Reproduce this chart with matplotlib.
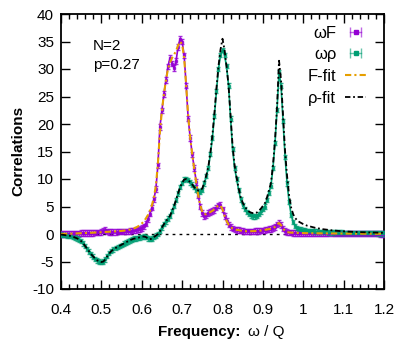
import numpy as np
import matplotlib
matplotlib.use("Agg")
import matplotlib.pyplot as plt
from matplotlib.lines import Line2D
from matplotlib.legend_handler import HandlerTuple, HandlerLine2D
from matplotlib.ticker import MultipleLocator

plt.rcParams['font.family'] = ['Liberation Sans', 'DejaVu Sans']
plt.rcParams['axes.unicode_minus'] = False

# frequency grid (omega / Q)
freq = np.round(np.arange(0.400, 1.2001, 0.005), 3)

# omega F data
wF = [0.00, 0.00, 0.02, 0.03, 0.05, 0.05, 0.08, 0.10, 0.10, 0.12,
      0.15, 0.15, 0.15, 0.18, 0.20, 0.20, 0.22, 0.25, 0.28, 0.30,
      0.40, 0.60, 0.70, 0.50, 0.40, 0.38, 0.35, 0.40, 0.42, 0.45,
      0.45, 0.48, 0.50, 0.50, 0.55, 0.60, 0.65, 0.75, 0.85, 0.95,
      1.10, 1.40, 1.90, 2.70, 3.70, 4.80, 6.30, 8.20, 12.5, 19.5,
      22.5, 25.5, 28.0, 30.5, 32.0, 31.0, 30.2, 31.5, 34.0, 35.5,
      35.0, 32.5, 27.0, 21.0, 17.5, 14.5, 12.0, 9.50, 7.00, 5.00,
      3.80, 3.30, 3.40, 3.80, 4.00, 4.20, 4.40, 4.80, 5.20, 5.30,
      4.50, 3.30, 2.40, 1.70, 1.30, 1.00, 0.85, 0.75, 0.70, 0.62,
      0.55, 0.50, 0.50, 0.48, 0.50, 0.50, 0.52, 0.55, 0.58, 0.62,
      0.68, 0.72, 0.80, 0.88, 0.95, 1.05, 1.30, 1.75, 2.00, 1.60,
      1.00, 0.55, 0.35, 0.28, 0.25, 0.22, 0.20, 0.20, 0.18, 0.18,
      0.16, 0.15, 0.15, 0.14, 0.14, 0.13, 0.13, 0.12, 0.12, 0.12,
      0.11, 0.11, 0.10, 0.10, 0.10, 0.10, 0.09, 0.09, 0.09, 0.08,
      0.08, 0.08, 0.08, 0.07, 0.07, 0.07, 0.07, 0.06, 0.06, 0.06,
      0.06, 0.06, 0.05, 0.05, 0.05, 0.05, 0.05, 0.05, 0.04, 0.04,
      0.04]

# omega rho data
wrho = [-0.10, -0.15, -0.20, -0.25, -0.30, -0.40, -0.50, -0.65, -0.80, -1.00,
        -1.30, -1.70, -2.20, -2.70, -3.20, -3.70, -4.10, -4.50, -4.80, -5.00,
        -5.10, -5.00, -4.60, -4.00, -3.50, -3.10, -2.80, -2.55, -2.35, -2.15,
        -1.95, -1.75, -1.55, -1.35, -1.15, -1.00, -0.85, -0.80, -0.70, -0.60,
        -0.50, -0.45, -0.55, -0.80, -0.95, -0.85, -0.55, -0.30, 0.00, 0.50,
        1.20, 1.80, 2.30, 2.80, 3.30, 4.20, 5.10, 6.20, 7.40, 8.50,
        9.30, 9.90, 10.0, 9.80, 9.40, 9.00, 8.50, 8.00, 7.80, 7.70,
        8.00, 9.20, 10.5, 12.0, 14.5, 17.5, 21.5, 26.0, 30.0, 32.5,
        33.5, 32.5, 30.5, 27.0, 21.0, 15.5, 12.0, 10.0, 8.00, 6.30,
        5.20, 4.50, 4.00, 3.60, 3.40, 3.20, 3.20, 3.30, 3.60, 4.10,
        4.60, 5.00, 6.20, 7.50, 8.80, 12.0, 16.5, 22.5, 29.5, 27.0,
        20.5, 14.0, 9.20, 5.80, 3.50, 2.20, 1.50, 1.10, 0.90, 0.80,
        0.70, 0.65, 0.60, 0.55, 0.50, 0.48, 0.45, 0.42, 0.40, 0.38,
        0.36, 0.34, 0.32, 0.30, 0.29, 0.28, 0.27, 0.26, 0.25, 0.24,
        0.23, 0.22, 0.21, 0.20, 0.20, 0.19, 0.18, 0.18, 0.17, 0.16,
        0.16, 0.15, 0.15, 0.14, 0.14, 0.13, 0.13, 0.12, 0.12, 0.12,
        0.11]

# F fit
Ffit = [0.00, 0.00, 0.02, 0.03, 0.05, 0.06, 0.08, 0.10, 0.11, 0.13,
        0.15, 0.16, 0.17, 0.19, 0.21, 0.22, 0.24, 0.26, 0.29, 0.32,
        0.34, 0.36, 0.38, 0.40, 0.42, 0.44, 0.46, 0.48, 0.50, 0.53,
        0.56, 0.60, 0.65, 0.70, 0.78, 0.88, 1.00, 1.15, 1.35, 1.60,
        1.90, 2.30, 2.80, 3.40, 4.20, 5.20, 6.60, 8.80, 12.8, 18.5,
        22.5, 25.5, 28.0, 30.0, 31.2, 32.0, 32.6, 33.3, 34.3, 35.0,
        34.5, 32.0, 27.0, 21.5, 17.5, 14.5, 11.8, 9.30, 7.00, 5.20,
        4.00, 3.60, 3.60, 3.80, 4.00, 4.20, 4.50, 4.90, 5.20, 5.20,
        4.50, 3.30, 2.40, 1.70, 1.30, 1.00, 0.85, 0.75, 0.70, 0.62,
        0.55, 0.50, 0.50, 0.48, 0.50, 0.50, 0.52, 0.55, 0.58, 0.62,
        0.68, 0.72, 0.80, 0.88, 0.95, 1.05, 1.30, 1.75, 2.00, 1.60,
        1.00, 0.55, 0.35, 0.28, 0.25, 0.22, 0.20, 0.20, 0.18, 0.18,
        0.16, 0.15, 0.15, 0.14, 0.14, 0.13, 0.13, 0.12, 0.12, 0.12,
        0.11, 0.11, 0.10, 0.10, 0.10, 0.10, 0.09, 0.09, 0.09, 0.08,
        0.08, 0.08, 0.08, 0.07, 0.07, 0.07, 0.07, 0.06, 0.06, 0.06,
        0.06, 0.06, 0.05, 0.05, 0.05, 0.05, 0.05, 0.05, 0.04, 0.04,
        0.04]

# rho fit
rhofit = [-0.10, -0.15, -0.20, -0.25, -0.30, -0.40, -0.50, -0.65, -0.80, -1.00,
          -1.30, -1.70, -2.20, -2.70, -3.20, -3.70, -4.10, -4.50, -4.80, -5.00,
          -5.10, -5.00, -4.60, -4.00, -3.50, -3.10, -2.80, -2.55, -2.35, -2.15,
          -1.95, -1.75, -1.55, -1.35, -1.15, -1.00, -0.85, -0.80, -0.70, -0.60,
          -0.50, -0.45, -0.55, -0.80, -0.95, -0.85, -0.55, -0.30, 0.00, 0.50,
          1.20, 1.80, 2.30, 2.80, 3.30, 4.20, 5.10, 6.20, 7.40, 8.50,
          9.30, 9.90, 10.0, 9.80, 9.40, 9.00, 8.50, 8.10, 7.90, 7.90,
          8.30, 9.40, 10.7, 12.3, 14.8, 18.0, 22.0, 26.5, 30.5, 33.5,
          35.5, 33.5, 30.5, 27.0, 21.5, 16.0, 12.5, 10.3, 8.30, 6.70,
          5.70, 5.00, 4.50, 4.10, 3.90, 3.80, 3.80, 3.90, 4.20, 4.60,
          5.10, 5.60, 6.60, 7.90, 9.30, 12.5, 17.0, 23.0, 31.5, 28.0,
          21.5, 15.0, 10.5, 7.00, 4.80, 3.60, 2.90, 2.50, 2.20, 2.00,
          1.80, 1.65, 1.50, 1.40, 1.30, 1.20, 1.12, 1.05, 0.98, 0.92,
          0.86, 0.81, 0.76, 0.72, 0.68, 0.64, 0.60, 0.57, 0.54, 0.51,
          0.48, 0.46, 0.44, 0.42, 0.40, 0.38, 0.36, 0.35, 0.33, 0.32,
          0.31, 0.30, 0.29, 0.28, 0.27, 0.26, 0.25, 0.24, 0.23, 0.22,
          0.21]

err_F = 0.5
err_rho = 0.4

labels = ['ωF', 'ωρ', 'F-fit', 'ρ-fit']
c_F, c_rho, c_Ffit, c_rhofit = '#9400D3', '#009E73', '#E69F00', '#000000'

FS = 11

fig = plt.figure(figsize=(3.96, 3.40), dpi=100)
ax = fig.add_axes([61/396, 1-289/340, (384-61)/396, (289-14)/340])

ax.axhline(0, color='black', lw=1.0, ls=(0, (2, 3)), zorder=1)

ax.errorbar(freq, wF, yerr=err_F, fmt='s', ms=2.0, color=c_F, ecolor=c_F,
            elinewidth=1.0, capsize=1.5, capthick=1.0, alpha=0.8, zorder=3)
ax.errorbar(freq, wrho, yerr=err_rho, fmt='s', ms=2.0, color=c_rho, ecolor=c_rho,
            elinewidth=1.0, capsize=1.5, capthick=1.0, alpha=0.8, zorder=3)
ax.plot(freq, wF, color=c_F, lw=1.2, zorder=3)
ax.plot(freq, wrho, color=c_rho, lw=1.2, zorder=3)
ax.plot(freq, Ffit, color=c_Ffit, lw=1.5, ls=(0, (3, 1.5, 1, 1.5)), zorder=4)
ax.plot(freq, rhofit, color=c_rhofit, lw=1.3, ls=(0, (3, 1.5, 1, 1.5)), zorder=4)

ax.set_xlim(0.4, 1.2)
ax.set_ylim(-10, 40)
ax.xaxis.set_minor_locator(MultipleLocator(0.02))
ax.yaxis.set_major_locator(MultipleLocator(5))
ax.set_xticks([0.4, 0.5, 0.6, 0.7, 0.8, 0.9, 1.0, 1.1, 1.2])
ax.set_xticklabels(['0.4', '0.5', '0.6', '0.7', '0.8', '0.9', '1', '1.1', '1.2'])
ax.tick_params(axis='both', which='major', direction='in', length=6.5, width=1.0,
               top=True, right=True, labelsize=FS, colors='black')
ax.tick_params(axis='x', which='minor', direction='in', length=3.5, width=1.0,
               top=True, bottom=True)
ax.tick_params(axis='x', which='major', pad=10)
ax.tick_params(axis='y', which='major', pad=5)
for s in ax.spines.values():
    s.set_linewidth(1.3)

ax.text(0.479, 35.5, 'N=2\np=0.27', fontsize=FS, ha='left', va='top', linespacing=1.45)

fig.text(240/396, 1-332/340, 'Frequency:', fontsize=FS, fontweight='bold',
         ha='right', va='center')
fig.text(248/396, 1-332/340, 'ω / Q', fontsize=FS, ha='left', va='center')
fig.text(18/396, 1-151/340, 'Correlations', fontsize=FS, fontweight='bold',
         rotation=90, ha='center', va='center')

# legend handles in gnuplot style
hF_line = Line2D([], [], color=c_F, lw=1.0, marker='|', ms=7, mew=1.0, alpha=0.6)
hF_dot = Line2D([], [], color=c_F, ls='none', marker='s', ms=2.5)
hr_line = Line2D([], [], color=c_rho, lw=1.0, marker='|', ms=7, mew=1.0, alpha=0.6)
hr_dot = Line2D([], [], color=c_rho, ls='none', marker='s', ms=2.5)
hFf = Line2D([], [], color=c_Ffit, lw=1.5, ls=(0, (3, 1.5, 1, 1.5)))
hrf = Line2D([], [], color=c_rhofit, lw=1.3, ls=(0, (3, 1.5, 1, 1.5)))
hmap = {hF_line: HandlerLine2D(numpoints=2), hr_line: HandlerLine2D(numpoints=2),
        hF_dot: HandlerLine2D(numpoints=1), hr_dot: HandlerLine2D(numpoints=1),
        tuple: HandlerTuple(ndivide=1)}
ax.legend([(hF_line, hF_dot), (hr_line, hr_dot), hFf, hrf], labels,
          handler_map=hmap, loc='upper right', frameon=False, markerfirst=False,
          fontsize=FS + 1, handlelength=1.3, handletextpad=0.5, labelspacing=0.4,
          borderaxespad=0.0, bbox_to_anchor=(0.966, 0.982))

fig.savefig('out.png', dpi=100)
